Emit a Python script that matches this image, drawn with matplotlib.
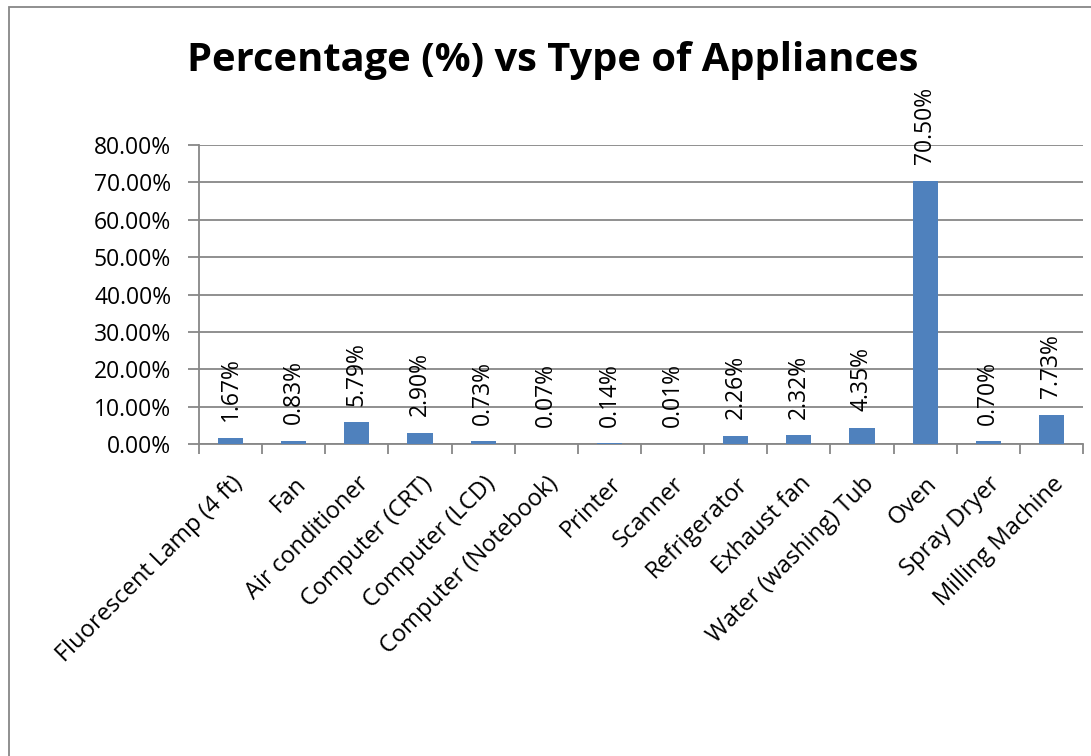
import matplotlib
matplotlib.use("Agg")
import matplotlib.pyplot as plt
from matplotlib.patches import Rectangle
import numpy as np

categories = ["Fluorescent Lamp (4 ft)", "Fan", "Air conditioner", "Computer (CRT)",
              "Computer (LCD)", "Computer (Notebook)", "Printer", "Scanner",
              "Refrigerator", "Exhaust fan", "Water (washing) Tub", "Oven",
              "Spray Dryer", "Milling Machine"]
values = [1.67, 0.83, 5.79, 2.90, 0.73, 0.07, 0.14, 0.01, 2.26, 2.32, 4.35, 70.50, 0.70, 7.73]
yticks = [0, 10, 20, 30, 40, 50, 60, 70, 80]

plt.rcParams['font.family'] = ['Open Sans', 'DejaVu Sans']

W, H = 1091, 756
fig = plt.figure(figsize=(W / 100, H / 100), dpi=100)
ax = fig.add_axes([199 / W, 1 - 444 / H, (1083 - 199) / W, (444 - 145) / H])

grid_c = "#878787"
fs = 16.5
x = np.arange(len(categories))
ax.bar(x, values, width=0.4, color="#4F81BD", zorder=3)
ax.set_xlim(-0.5, len(categories) - 0.5)
ax.set_ylim(0, 80)
ax.set_yticks(yticks)
ax.set_yticklabels([f"{v:.2f}%" for v in yticks], fontsize=fs)
ax.yaxis.grid(True, color=grid_c, linewidth=1.3, zorder=0)
ax.set_xticks(np.arange(len(categories) + 1) - 0.5, minor=False)
ax.set_xticklabels([])
ax.set_xticks(x, minor=True)
ax.set_xticklabels(categories, minor=True, rotation=45, ha="right",
                   rotation_mode="anchor", fontsize=17)
ax.tick_params(axis="x", which="minor", length=0, pad=20)
ax.tick_params(axis="x", which="major", length=7, color=grid_c, width=1.3)
ax.tick_params(axis="y", length=8, color=grid_c, width=1.3, pad=12)
for s in ["top", "right"]:
    ax.spines[s].set_visible(False)
for s in ["left", "bottom"]:
    ax.spines[s].set_color(grid_c)
    ax.spines[s].set_linewidth(1.3)

for xi, v in zip(x, values):
    ax.annotate(f"{v:.2f}%", (xi, v), xytext=(0, 12), textcoords="offset points",
                rotation=90, ha="center", va="bottom", fontsize=fs, zorder=4)

fig.text(553 / W, 1 - 60 / H, "Percentage (%) vs Type of Appliances",
         ha="center", va="center", fontsize=28.7, fontweight="bold")

fig.patches.append(Rectangle((9 / W, -0.1), 1.2, (1 - 7 / H) + 0.1,
                             transform=fig.transFigure, fill=False,
                             edgecolor="#878787", linewidth=1.3))

fig.savefig("out.png", dpi=100)
